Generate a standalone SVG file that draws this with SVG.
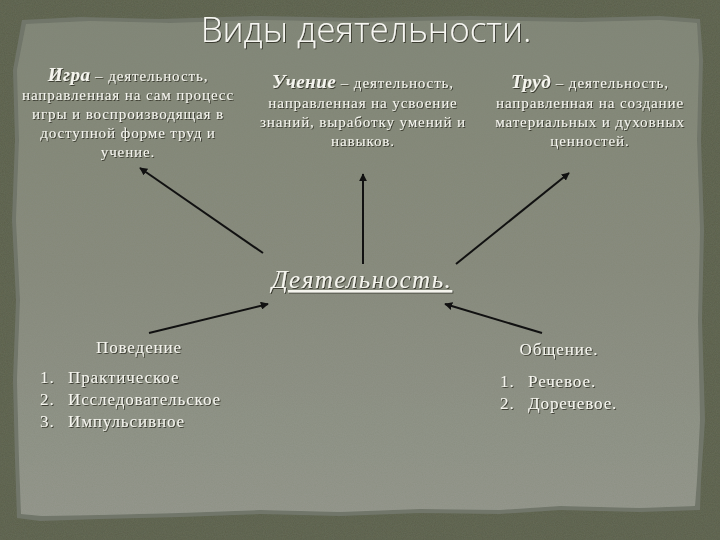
<svg xmlns="http://www.w3.org/2000/svg" width="720" height="540" viewBox="0 0 720 540">
<defs>
  <linearGradient id="panelGrad" x1="0" y1="0" x2="0" y2="1">
    <stop offset="0" stop-color="#83887a"/>
    <stop offset="0.5" stop-color="#8a8d80"/>
    <stop offset="1" stop-color="#969990"/>
  </linearGradient>
  <filter id="noise" x="0" y="0" width="100%" height="100%">
    <feTurbulence type="fractalNoise" baseFrequency="0.9" numOctaves="2" seed="3" result="n"/>
    <feColorMatrix in="n" type="matrix" values="0 0 0 0 0.2  0 0 0 0 0.22  0 0 0 0 0.15  0 0 0 0.35 0" result="cn"/>
    <feComposite in="cn" in2="SourceGraphic" operator="in" result="cm"/>
    <feMerge><feMergeNode in="SourceGraphic"/><feMergeNode in="cm"/></feMerge>
  </filter>
  <filter id="shadow" x="-5%" y="-20%" width="110%" height="140%">
    <feDropShadow dx="1" dy="1" stdDeviation="0.6" flood-color="#2a2c24" flood-opacity="0.8"/>
  </filter>
  <marker id="arr" viewBox="0 0 10 10" refX="9" refY="5" markerWidth="4" markerHeight="4" orient="auto" markerUnits="strokeWidth">
    <path d="M0,0 L10,5 L0,10 z" fill="#111"/>
  </marker>
  <style>
    .t { fill: #f5f5ee; font-family: "Liberation Serif", "DejaVu Serif", serif; filter: url(#shadow); }
    .def { font-size: 15px; letter-spacing: 0.9px; text-anchor: middle; }
    .head { font-size: 19px; font-weight: bold; font-style: italic; letter-spacing: 0.5px; }
    .lst { font-size: 17px; letter-spacing: 0.9px; }
    .title { fill: #f7f7f2; font-family: "Open Sans", "Noto Sans", sans-serif; font-weight: 300; font-size: 35px; text-anchor: middle; filter: url(#shadow); }
    .conn line { stroke: #111; stroke-width: 2; marker-end: url(#arr); }
  </style>
</defs>

<!-- background -->
<rect x="0" y="0" width="720" height="540" fill="#5a5f4c"/>
<rect x="0" y="0" width="720" height="540" fill="#5a5f4c" filter="url(#noise)"/>
<path d="M22,20 L80,17 L160,19 L260,16 L360,18 L470,16 L580,18 L660,16 L700,19 L703,60 L701,140 L704,230 L702,320 L705,420 L701,480 L700,510 L640,512 L560,510 L500,514 L420,513 L340,516 L260,514 L180,517 L100,519 L40,521 L17,518 L15,460 L13,380 L16,300 L12,220 L15,140 L13,70 Z" fill="#71766a"/>
<path d="M26,24 L90,21 L170,23 L260,20 L360,22 L470,20 L580,22 L660,20 L697,23 L699,60 L697,140 L700,230 L698,320 L700,420 L697,480 L695,506 L640,508 L560,506 L500,510 L420,509 L340,512 L260,510 L180,513 L100,515 L42,516 L21,514 L19,460 L17,380 L20,300 L16,220 L19,140 L17,70 Z" fill="url(#panelGrad)" filter="url(#noise)"/>

<!-- title -->
<g id="title">
  <text class="title" x="366" y="42">Виды деятельности.</text>
</g>

<!-- nodes -->
<g id="igra">
  <text class="t def" x="128" y="81"><tspan class="head">Игра</tspan> – деятельность,</text>
  <text class="t def" x="128" y="100">направленная на сам процесс</text>
  <text class="t def" x="128" y="119">игры и воспроизводящая в</text>
  <text class="t def" x="128" y="138">доступной форме труд и</text>
  <text class="t def" x="128" y="157">учение.</text>
</g>
<g id="uchenie">
  <text class="t def" x="363" y="88"><tspan class="head">Учение</tspan> – деятельность,</text>
  <text class="t def" x="363" y="108">направленная на усвоение</text>
  <text class="t def" x="363" y="127">знаний, выработку умений и</text>
  <text class="t def" x="363" y="146">навыков.</text>
</g>
<g id="trud">
  <text class="t def" x="590" y="88"><tspan class="head">Труд</tspan> – деятельность,</text>
  <text class="t def" x="590" y="108">направленная на создание</text>
  <text class="t def" x="590" y="127">материальных и духовных</text>
  <text class="t def" x="590" y="146">ценностей.</text>
</g>
<g id="deyatelnost">
  <text class="t" x="362" y="288" text-anchor="middle" font-size="25" font-style="italic" letter-spacing="1.5" text-decoration="underline">Деятельность.</text>
</g>
<g id="povedenie">
  <text class="t lst" x="139" y="353" text-anchor="middle">Поведение</text>
  <text class="t lst" x="40" y="383">1.</text><text class="t lst" x="68" y="383">Практическое</text>
  <text class="t lst" x="40" y="405">2.</text><text class="t lst" x="68" y="405">Исследовательское</text>
  <text class="t lst" x="40" y="427">3.</text><text class="t lst" x="68" y="427">Импульсивное</text>
</g>
<g id="obshchenie">
  <text class="t lst" x="559" y="355" text-anchor="middle">Общение.</text>
  <text class="t lst" x="500" y="387">1.</text><text class="t lst" x="528" y="387">Речевое.</text>
  <text class="t lst" x="500" y="409">2.</text><text class="t lst" x="528" y="409">Доречевое.</text>
</g>

<!-- connectors -->
<g id="connectors" class="conn">
  <line x1="263" y1="253" x2="140" y2="168"/>
  <line x1="363" y1="264" x2="363" y2="174"/>
  <line x1="456" y1="264" x2="569" y2="173"/>
  <line x1="149" y1="333" x2="268" y2="304"/>
  <line x1="542" y1="333" x2="445" y2="304"/>
</g>
</svg>
